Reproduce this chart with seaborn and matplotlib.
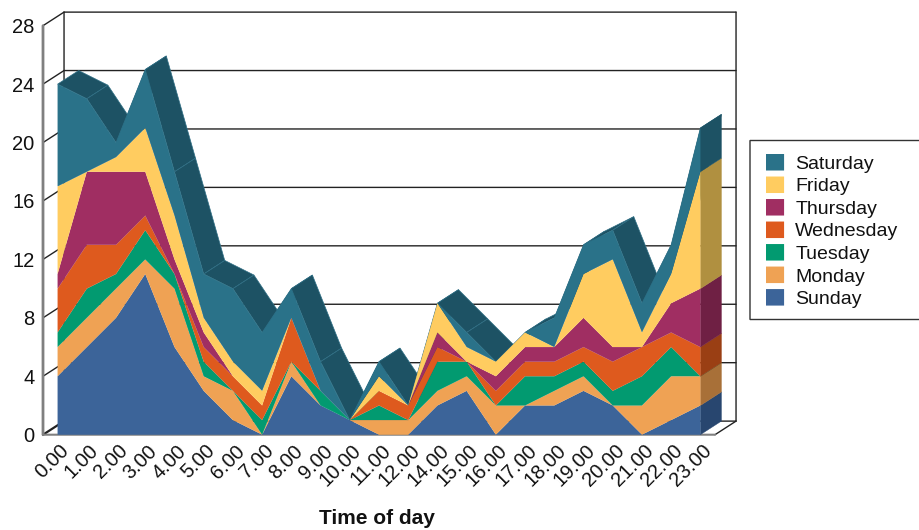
import pandas as pd
import matplotlib
matplotlib.use("Agg")
import matplotlib.pyplot as plt
from matplotlib.patches import Patch, Rectangle
from matplotlib.transforms import ScaledTranslation
import seaborn as sns
import seaborn.objects as so

hours = ["0.00", "1.00", "2.00", "3.00", "4.00", "5.00", "6.00", "7.00", "8.00", "9.00", "10.00", "11.00",
         "12.00", "14.00", "15.00", "16.00", "17.00", "18.00", "19.00", "20.00", "21.00", "22.00", "23.00"]

sunday = [4, 6, 8, 11, 6, 3, 1, 0, 4, 2, 1, 0, 0, 2, 3, 0, 2, 2, 3, 2, 0, 1, 2]
monday = [2, 2, 2, 1, 4, 1, 2, 0, 1, 0, 0, 1, 1, 1, 1, 2, 0, 1, 1, 0, 2, 3, 2]
tuesday = [1, 2, 1, 2, 1, 1, 0, 1, 0, 1, 0, 1, 0, 2, 1, 0, 2, 1, 1, 1, 2, 2, 0]
wednesday = [3, 3, 2, 1, 0, 1, 1, 1, 3, 0, 0, 1, 1, 1, 0, 1, 1, 1, 1, 2, 2, 1, 2]
thursday = [1, 5, 5, 3, 1, 1, 0, 0, 0, 0, 0, 0, 0, 1, 0, 1, 1, 1, 2, 1, 0, 2, 4]
friday = [6, 0, 1, 3, 3, 1, 1, 1, 0, 0, 0, 1, 0, 2, 1, 1, 1, 0, 3, 6, 1, 2, 8]
saturday = [7, 5, 1, 4, 3, 3, 5, 4, 2, 2, 0, 1, 0, 0, 1, 0, 0, 2, 2, 2, 2, 2, 3]

days = ["Sunday", "Monday", "Tuesday", "Wednesday", "Thursday", "Friday", "Saturday"]
series = [sunday, monday, tuesday, wednesday, thursday, friday, saturday]
colors = ["#3c6499", "#efa254", "#029a70", "#de5a1e", "#a02e62", "#ffcc60", "#2a7289"]
side_colors = ["#28466f", "#a87038", "#016b4e", "#9a3f14", "#6f2044", "#b09040", "#1d5264"]

y_ticks = [0, 4, 8, 12, 16, 20, 24, 28]

# fake 3d depth, in category / value units
DX = 0.72
DY = 0.93

sns.set_theme(style="white")
plt.rcParams["font.family"] = ["Liberation Sans", "DejaVu Sans"]
plt.rcParams["path.snap"] = False

fig = plt.figure(figsize=(9.19, 5.3), dpi=100)
ax = fig.add_axes([43 / 919, 1 - 434.7 / 530, 672 / 919, 409 / 530])
ax.patch.set_alpha(0)

# Long table for the stacked front faces
rows = []
for day, values in zip(days, series):
    for i, v in enumerate(values):
        rows.append({"pos": i, "count": v, "day": day})
df = pd.DataFrame(rows)

(
    so.Plot(df, x="pos", y="count", color="day")
    .add(so.Area(alpha=1, edgewidth=0.3, edgealpha=1), so.Stack(), legend=False)
    .scale(color=dict(zip(days, colors)))
    .on(ax)
    .plot()
)

x_left, x_right = -0.5, 22.5
ax.set_xlim(x_left, x_right)
ax.set_ylim(0, 28)

# Back wall, side wall ticks and floor
for t in y_ticks:
    ax.plot([x_left + DX, x_right + DX], [t + DY, t + DY], color="#222222", lw=1, zorder=0.3, clip_on=False)
    ax.plot([x_left, x_left + DX], [t, t + DY], color="#222222", lw=1.6 if t == 0 else 1, zorder=0.3, clip_on=False)
ax.plot([x_left + DX, x_left + DX], [DY, 28 + DY], color="#222222", lw=1, zorder=0.3, clip_on=False)
ax.plot([x_right + DX, x_right + DX], [DY, 28 + DY], color="#222222", lw=1, zorder=0.3, clip_on=False)
ax.plot([x_right, x_right + DX], [0, DY], color="#222222", lw=1, zorder=0.3, clip_on=False)
ax.plot([x_left, x_right], [0, 0], color="#808080", lw=1.5, zorder=0.4, clip_on=False)
ax.plot([x_left, x_left], [0, 28], color="#808080", lw=2, zorder=0.4, clip_on=False)

# Top surface of the stack
totals = [sum(col) for col in zip(*series)]
for i in range(len(hours) - 1):
    xs = [i, i + 1, i + 1 + DX, i + DX]
    ys = [totals[i], totals[i + 1], totals[i + 1] + DY, totals[i] + DY]
    ax.fill(xs, ys, facecolor=side_colors[-1], edgecolor="#2f6f85", lw=0.5, zorder=0.8, clip_on=False)

# Right end cap, one band per series
last = len(hours) - 1
base = 0
for values, c in zip(series, side_colors):
    top = base + values[last]
    ax.fill([last, last + DX, last + DX, last], [base, base + DY, top + DY, top],
            facecolor=c, edgecolor=c, lw=0.3, zorder=0.9, clip_on=False)
    base = top

ax.set_xticks(range(len(hours)))
ax.set_xticklabels(hours, rotation=45, ha="right", va="top", rotation_mode="anchor", fontsize=14.5, color="#111111")
ax.set_yticks(y_ticks)
ax.set_yticklabels([str(t) for t in y_ticks], fontsize=14.5, color="#111111")
ax.tick_params(axis="x", length=0, pad=4)
ax.tick_params(axis="y", length=0, pad=6)
# nudge the slanted labels a little to the right
shift = ScaledTranslation(2 / 100, -1 / 100, fig.dpi_scale_trans)
for lab in ax.get_xticklabels():
    lab.set_transform(lab.get_transform() + shift)
ax.set_xlabel("")
ax.set_ylabel("")
ax.grid(False)
sns.despine(ax=ax, left=True, bottom=True)

fig.text(377 / 919, 1 - 519 / 530, "Time of day", ha="center", va="center", fontsize=15, fontweight="bold", color="#111111")

# Legend box runs off the right edge
fig.add_artist(Rectangle((750 / 919, 1 - 319.5 / 530), 200 / 919, 179 / 530, transform=fig.transFigure,
                         facecolor="white", edgecolor="#333333", lw=1))
handles = [Patch(facecolor=c, edgecolor="none", label=d) for d, c in zip(days[::-1], colors[::-1])]
fig.legend(handles=handles, loc="upper left", bbox_to_anchor=(766 / 919, 1 - 154 / 530), frameon=False,
           fontsize=14, borderpad=0, borderaxespad=0, handlelength=0.93, handleheight=0.93,
           handletextpad=0.57, labelspacing=0.183, labelcolor="#111111")

fig.savefig("out.png", dpi=100)
